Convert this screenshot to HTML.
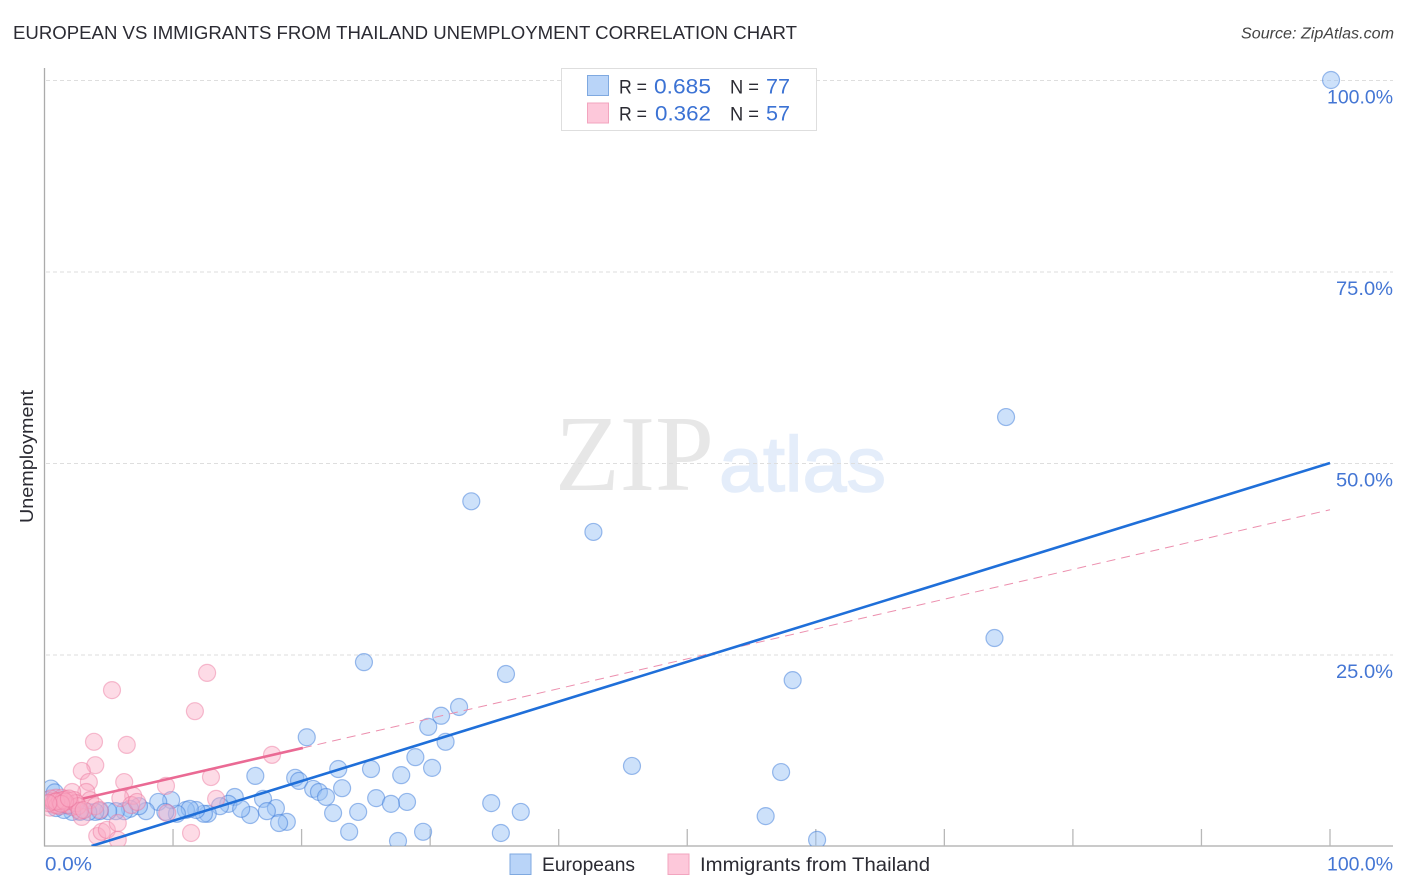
<!DOCTYPE html>
<html lang="en">
<head>
<meta charset="utf-8">
<title>European vs Immigrants from Thailand Unemployment Correlation Chart</title>
<style>
html,body{margin:0;padding:0;background:#fff;width:1406px;height:892px;overflow:hidden}
svg{display:block;font-family:"Liberation Sans",sans-serif}
</style>
</head>
<body>
<svg id="chart" width="1406" height="892" viewBox="0 0 1406 892" xmlns="http://www.w3.org/2000/svg">
  <defs>
    <clipPath id="plot-clip"><rect x="45" y="62" width="1349" height="784"/></clipPath>
  </defs>
  <text x="13" y="39" font-size="18.5" fill="#2b2b33" textLength="784" lengthAdjust="spacingAndGlyphs">EUROPEAN VS IMMIGRANTS FROM THAILAND UNEMPLOYMENT CORRELATION CHART</text>
  <text x="1241" y="38.5" font-size="15.5" font-style="italic" fill="#444" textLength="153" lengthAdjust="spacingAndGlyphs">Source: ZipAtlas.com</text>

  <g>
    <text x="555" y="490" font-family="'Liberation Serif',serif" font-size="108" fill="#e7e7e7" textLength="159" lengthAdjust="spacingAndGlyphs">ZIP</text>
    <text x="719" y="491" font-size="78" fill="#e4edfa" stroke="#e4edfa" stroke-width="1.5" textLength="167" lengthAdjust="spacingAndGlyphs">atlas</text>
  </g>

  <g id="grid"></g>
  <g id="axes"></g>
  <g id="blue-points" clip-path="url(#plot-clip)"></g>
  <g id="pink-points" clip-path="url(#plot-clip)"></g>
  <g id="trends" clip-path="url(#plot-clip)"></g>
  <g id="labels"></g>

  <text transform="translate(33,456.5) rotate(-90)" font-size="18.5" fill="#2b2b33" text-anchor="middle" textLength="133" lengthAdjust="spacingAndGlyphs">Unemployment</text>

  <g>
    <rect x="561.5" y="68.5" width="255" height="62" fill="#fff" stroke="#dedede" stroke-width="1"/>
    <rect x="587.5" y="75.5" width="21" height="20" fill="#b9d4f8" stroke="#7fa9e0"/>
    <rect x="587.5" y="103" width="21" height="20" fill="#fdc8da" stroke="#f2a5bf"/>
    <g font-size="19.5" fill="#2b2b33">
      <text x="619" y="93.5" textLength="28" lengthAdjust="spacingAndGlyphs">R =</text>
      <text x="654" y="93.5" fill="#3b72d4" font-size="21" textLength="57" lengthAdjust="spacingAndGlyphs">0.685</text>
      <text x="730" y="93.5" textLength="29" lengthAdjust="spacingAndGlyphs">N =</text>
      <text x="766" y="93.5" fill="#3b72d4" font-size="21" textLength="24" lengthAdjust="spacingAndGlyphs">77</text>
      <text x="619" y="120.5" textLength="28" lengthAdjust="spacingAndGlyphs">R =</text>
      <text x="655" y="120.5" fill="#3b72d4" font-size="21" textLength="56" lengthAdjust="spacingAndGlyphs">0.362</text>
      <text x="730" y="120.5" textLength="29" lengthAdjust="spacingAndGlyphs">N =</text>
      <text x="766" y="120.5" fill="#3b72d4" font-size="21" textLength="24" lengthAdjust="spacingAndGlyphs">57</text>
    </g>
  </g>

  <g>
    <rect x="510" y="854" width="21" height="20.5" fill="#b9d4f8" stroke="#7fa9e0"/>
    <text x="542" y="871" font-size="19" fill="#2b2b33" textLength="93" lengthAdjust="spacingAndGlyphs">Europeans</text>
    <rect x="668" y="854" width="21" height="20.5" fill="#fdc8da" stroke="#f2a5bf"/>
    <text x="700" y="871" font-size="19" fill="#2b2b33" textLength="230" lengthAdjust="spacingAndGlyphs">Immigrants from Thailand</text>
  </g>
</svg>
<script>
var xTickValues = [10, 20, 30, 40, 50, 60, 70, 80, 90, 100];
var yGridValues = [25, 50, 75, 100];
var yTickLabels = ["25.0%", "50.0%", "75.0%", "100.0%"];
var xTickLabels = ["0.0%", "100.0%"];
var xLabelValues = [0, 100];

var europeansX = [100.08,74.8,33.2,42.7,73.9,24.85,35.9,58.2,32.25,30.85,29.85,31.2,20.4,45.7,57.3,30.15,25.4,22.85,27.75,28.85,16.4,19.5,19.8,23.15,20.9,21.35,21.9,25.8,28.2,26.95,34.75,37.05,56.1,24.4,22.45,23.7,29.45,35.5,27.5,60.1,17.0,18.0,17.3,16.0,18.85,18.25,14.8,14.3,15.3,13.65,12.7,12.4,11.8,11.0,11.3,10.3,9.85,8.85,9.4,7.9,7.35,6.65,6.2,5.55,4.95,4.3,3.95,3.4,2.75,2.15,1.5,0.9,0.5,0.2,0.8,1.2,1.8];
var europeansY = [100,56.0,45.0,41.0,27.15,24.0,22.45,21.65,18.15,17.0,15.55,13.6,14.2,10.45,9.65,10.2,10.05,10.05,9.25,11.6,9.15,8.9,8.5,7.55,7.45,7.05,6.4,6.25,5.75,5.5,5.6,4.45,3.9,4.45,4.3,1.85,1.85,1.7,0.65,0.8,6.15,4.95,4.55,4.05,3.15,3.0,6.4,5.5,4.85,5.2,4.2,4.2,4.7,4.7,4.85,4.2,6.0,5.75,4.45,4.55,5.2,4.85,4.55,4.55,4.55,4.55,4.45,4.45,4.45,4.45,4.7,4.95,7.5,6.0,7.0,5.6,5.3];

var thailandX = [12.65,5.25,11.7,3.85,6.4,3.95,2.9,3.45,6.2,17.7,12.95,9.45,3.25,2.15,6.9,5.9,13.35,11.4,9.55,4.1,4.45,4.85,5.7,5.7,2.9,3.55,6.75,7.2,3.95,0.4,0.6,0.7,0.9,1.05,1.2,1.35,1.5,1.65,1.8,2.0,2.15,2.3,2.45,2.6,2.75,3.05,0.5,0.75,1.0,1.2,1.45,0.9,1.6,1.3,1.9,0.3,4.3];
var thailandY = [22.6,20.35,17.6,13.6,13.2,10.55,9.8,8.35,8.35,11.9,9.0,7.85,7.05,7.05,6.55,6.25,6.15,1.7,4.3,1.3,1.85,2.1,3.0,0.8,3.8,6.0,5.35,5.75,5.2,5.0,5.9,5.4,6.3,5.9,5.2,6.3,5.6,6.1,5.4,5.9,5.1,6.0,5.6,5.2,4.6,4.7,6.2,5.75,5.3,5.9,6.0,5.8,5.8,5.5,6.2,5.6,4.7];

var blueTrendX = [3.66, 100];
var blueTrendY = [0, 50];
var pinkSolidX = [3, 20.1];
var pinkSolidY = [6.2, 12.8];
var pinkDashX = [20.1, 100];
var pinkDashY = [12.8, 43.9];

var NS = 'http://www.w3.org/2000/svg';
function sx(v) { return 44.5 + v * 12.855; }
function sy(v) { return 846 - v * 7.66; }
function labelWidth(s) { return s.length === 6 ? 66 : (s.length === 5 ? 57 : 47); }
function make(tag, attrs, parent) {
  var el = document.createElementNS(NS, tag);
  for (var k in attrs) { el.setAttribute(k, attrs[k]); }
  parent.appendChild(el);
  return el;
}
var grid = document.getElementById('grid');
var axes = document.getElementById('axes');
var labels = document.getElementById('labels');
var bluePts = document.getElementById('blue-points');
var pinkPts = document.getElementById('pink-points');
var trends = document.getElementById('trends');

yGridValues.forEach(function (v, i) {
  var line = make('line', {x1: 46, x2: 1393, y1: sy(v) + 0.5, y2: sy(v) + 0.5, stroke: '#dedede', 'stroke-width': 1, 'stroke-dasharray': '4 3'}, grid);
  
  
  var w = labelWidth(yTickLabels[i]);
  var t = make('text', {x: 1393 - w, y: sy(v) + 23.5, 'font-size': 19.5, fill: '#4476d4', textLength: w, lengthAdjust: 'spacingAndGlyphs'}, labels);
  t.textContent = yTickLabels[i];
  
  
});

var yAxis = make('line', {x1: 44.5, x2: 44.5, y1: 68, y2: 846.5, stroke: '#ababab', 'stroke-width': 1.3}, axes);


var xAxis = make('line', {x1: 44, x2: 1393, y1: 846, y2: 846, stroke: '#ababab', 'stroke-width': 1.3}, axes);


xTickValues.forEach(function (v) {
  var tick = make('line', {x1: sx(v), x2: sx(v), y1: 829, y2: 846, stroke: '#b8b8b8', 'stroke-width': 1.3}, axes);
  
  
});
xTickLabels.forEach(function (s, i) {
  var w = labelWidth(s);
  var atEnd = xLabelValues[i] === 100;
  var t = make('text', {x: atEnd ? 1393 - w : sx(xLabelValues[i]) + 0.5, y: 870.5, 'font-size': 19.5, fill: '#4476d4', textLength: w, lengthAdjust: 'spacingAndGlyphs'}, labels);
  t.textContent = s;
  
  
});

europeansX.forEach(function (x, i) {
  var c = make('circle', {cx: sx(x), cy: sy(europeansY[i]), r: 8.5, fill: 'rgba(150,192,244,0.48)', stroke: 'rgba(62,124,218,0.5)', 'stroke-width': 1.2}, bluePts);
  
  
});
thailandX.forEach(function (x, i) {
  var c = make('circle', {cx: sx(x), cy: sy(thailandY[i]), r: 8.5, fill: 'rgba(250,170,196,0.42)', stroke: 'rgba(234,116,156,0.45)', 'stroke-width': 1.2}, pinkPts);
  
  
});

var dash = make('line', {x1: sx(pinkDashX[0]), y1: sy(pinkDashY[0]), x2: sx(pinkDashX[1]), y2: sy(pinkDashY[1]), stroke: '#ec8fae', 'stroke-width': 1, 'stroke-dasharray': '9 6'}, trends);


var pinkLine = make('line', {x1: sx(pinkSolidX[0]), y1: sy(pinkSolidY[0]), x2: sx(pinkSolidX[1]), y2: sy(pinkSolidY[1]), stroke: '#ea6a94', 'stroke-width': 2.6}, trends);


var blueLine = make('line', {x1: sx(blueTrendX[0]), y1: sy(blueTrendY[0]), x2: sx(blueTrendX[1]), y2: sy(blueTrendY[1]), stroke: '#1f6fd9', 'stroke-width': 2.6}, trends);


</script>
</body>
</html>
